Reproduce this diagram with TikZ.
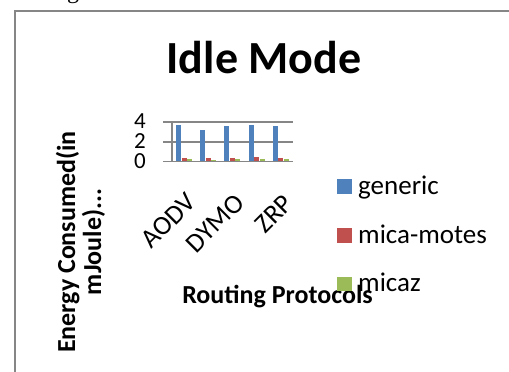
\documentclass[tikz,border=0pt]{standalone}
\usepackage{fontspec}
\setmainfont{Carlito}
\newfontfamily\serifg{Liberation Serif}
\definecolor{cblue}{HTML}{4F81BD}
\definecolor{cred}{HTML}{C0504D}
\definecolor{cgreen}{HTML}{9BBB59}
\definecolor{cgrid}{HTML}{868686}
\begin{document}
\begin{tikzpicture}[x=1pt,y=-1pt,
  grid/.style={draw=cgrid,line width=1.5pt},
  tick/.style={font=\fontsize{23}{23}\selectfont,inner sep=0pt,anchor=base east},
  cat/.style={font=\fontsize{27}{27}\selectfont,inner sep=0pt,anchor=north east,rotate=45},
  legtext/.style={font=\fontsize{27}{27}\selectfont,inner sep=0pt,anchor=base west},
  axtitle/.style={font=\fontsize{26}{26}\selectfont\bfseries,inner sep=0pt,anchor=base},
  barb/.style={fill=cblue},
  barr/.style={fill=cred},
  barg/.style={fill=cgreen}]
\useasboundingbox (0,0) rectangle (509,372);
\fill[white] (0,0) rectangle (509,372);
\begin{scope}
\clip (0,0) rectangle (509,372);
\node[font=\serifg\fontsize{24}{24}\selectfont,inner sep=0pt,anchor=base] (frag) at (73,-1.5) {g};
\draw[draw=cgrid,line width=2pt] (14.5,10.5) rectangle (530,400);
\end{scope}
% title
\node[font=\fontsize{46}{46}\selectfont\bfseries,inner sep=0pt,anchor=base] (title) at (264,73) {Idle Mode};
% gridlines
\foreach \v/\n in {4/a,2/b,0/c}{
  \draw[grid] (163,{161.7-9.925*\v}) -- (293,{161.7-9.925*\v});
  \node[tick] (t\n) at (146,{168.5-9.925*\v}) {\v};
}
\draw[grid] (172,122) -- (172,161.7);
% bars
\foreach \i/\b/\r/\g in {0/3.70/0.42/0.27,1/3.20/0.38/0.22,2/3.56/0.42/0.27,3/3.73/0.45/0.28,4/3.56/0.40/0.26}{
  \pgfmathsetmacro\s{172+24.2*\i}
  \fill[barb] (\s+4,161) rectangle (\s+9,{161.7-9.925*\b});
  \fill[barr] (\s+9.5,161) rectangle (\s+14.5,{161.7-9.925*\r});
  \fill[barg] (\s+15,161) rectangle (\s+20,{161.7-9.925*\g});
}
\draw[grid] (163,161.7) -- (293,161.7);
% category labels
\node[cat] (aodv) at (185,191) {AODV};
\node[cat] (dymo) at (233.5,192) {DYMO};
\node[cat] (zrp) at (282,193) {ZRP};
% axis titles
\node[axtitle] (xt) at (277.5,303) {Routing Protocols};
\node[axtitle,rotate=90] (yt1) at (75,242) {Energy Consumed(in};
\node[axtitle,rotate=90] (yt2) at (101,242) {mJoule)...};
% legend
\fill[cblue] (337,179) rectangle (352,193.5);
\node[legtext] (lg1) at (358,194) {generic};
\fill[cred] (337,228) rectangle (352,242.5);
\node[legtext] (lg2) at (358,243) {mica-motes};
\fill[cgreen] (337,276.5) rectangle (352,291);
\node[legtext] (lg3) at (358,291.5) {micaz};
\end{tikzpicture}
\end{document}
